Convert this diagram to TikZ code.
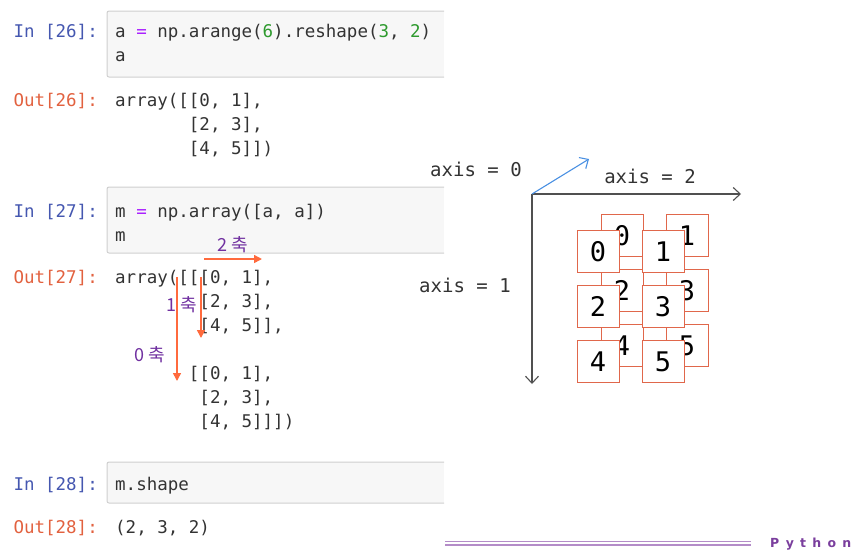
\documentclass[tikz,border=0pt]{standalone}
\usepackage{fontspec}
\setmainfont{DejaVu Sans}
\setsansfont{DejaVu Sans}
\setmonofont{DejaVu Sans Mono}
\newfontfamily\kr{Noto Sans CJK KR}
\usetikzlibrary{arrows.meta}

\definecolor{inblau}{HTML}{4557B0}
\definecolor{outrot}{HTML}{E2613F}
\definecolor{codegrau}{HTML}{333333}
\definecolor{lila}{HTML}{AA22FF}
\definecolor{zahlgruen}{HTML}{2E9A2E}
\definecolor{zellgrau}{HTML}{F7F7F7}
\definecolor{randgrau}{HTML}{CFCFCF}
\definecolor{pfeilrot}{HTML}{FF6A3D}
\definecolor{violett}{HTML}{7030A0}
\definecolor{achsgrau}{HTML}{505050}
\definecolor{achsblau}{HTML}{4A90E2}
\definecolor{boxrot}{HTML}{E0674B}
\definecolor{linienlila}{HTML}{B48CC8}
\definecolor{pylila}{HTML}{7A3E9D}

\def\code{\fontsize{17.5}{24}\ttfamily}
\def\eingabe#1#2{
	\fill[zellgrau] (107,#1) rectangle (444,#2);
	\draw[randgrau,line width=1pt,rounded corners=2pt] (444,#1) -- (107,#1) -- (107,#2) -- (444,#2);
}
\def\gr#1{\textcolor{zahlgruen}{#1}}

\begin{document}
\begin{tikzpicture}[x=1pt,y=-1pt,>={Triangle[length=8pt,width=8pt]},
	prompt/.style={anchor=base east,inner sep=0,font=\code},
	zeile/.style={anchor=base west,inner sep=0,align=left,font=\code,text=codegrau},
	rotpfeil/.style={draw=pfeilrot,line width=1.5pt,->},
	achstext/.style={inner sep=0,text=violett,font=\fontsize{18}{18}\kr},
	achse/.style={draw=achsgrau,line width=1.1pt,-{Straight Barb[length=7pt,width=13pt]}},
	achslabel/.style={anchor=base,inner sep=0,text=codegrau,font=\fontsize{19}{19}\ttfamily},
	zelle/.style={draw=boxrot,fill=white,line width=1pt,minimum size=42pt,inner sep=0,font=\fontsize{27}{27}\ttfamily}]

\useasboundingbox (0,0) rectangle (859,558);

\eingabe{11}{77}
\eingabe{187}{253}
\eingabe{462}{503}

\node[prompt,text=inblau] (in26) at (98,37) {In [26]:};
\node[zeile] (c26) at (115,61) {a \textcolor{lila}{=} np.arange(\gr{6}).reshape(\gr{3}, \gr{2})\\a};
\node[prompt,text=outrot] (out26) at (98,106.5) {Out[26]:};
\node[zeile] (r26) at (115,154.5) {array([[0, 1],\\
\phantom{array([}[2, 3],\\
\phantom{array([}[4, 5]])};

\node[prompt,text=inblau] (in27) at (98,217) {In [27]:};
\node[zeile] (c27) at (115,241) {m \textcolor{lila}{=} np.array([a, a])\\m};
\node[prompt,text=outrot] (out27) at (98,283) {Out[27]:};
\node[zeile] (r27) at (115,427) {array([[[0, 1],\\
\phantom{array([[}[2, 3],\\
\phantom{array([[}[4, 5]],\\[24pt]
\phantom{array([}[[0, 1],\\
\phantom{array([[}[2, 3],\\
\phantom{array([[}[4, 5]]])};

\node[prompt,text=inblau] (in28) at (98,490) {In [28]:};
\node[zeile] (c28) at (115,490) {m.shape};
\node[prompt,text=outrot] (out28) at (98,533) {Out[28]:};
\node[zeile] (r28) at (115,533) {(2, 3, 2)};

\coordinate (s2a) at (204,259);
\coordinate (s2e) at (262,259);
\coordinate (s1a) at (201,277);
\coordinate (s1e) at (201,338);
\coordinate (s0a) at (177,277);
\coordinate (s0e) at (177,381);
\draw[rotpfeil] (s2a) -- (s2e);
\draw[rotpfeil] (s1a) -- (s1e);
\draw[rotpfeil] (s0a) -- (s0e);
\node[achstext] (l2) at (232.5,245) {2 축};
\node[achstext] (l1) at (181.5,304.5) {1 축};
\node[achstext] (l0) at (150,355) {0 축};

\coordinate (o) at (532,194);
\coordinate (x2) at (741,194);
\coordinate (x1) at (532,384);
\coordinate (x0) at (589,159);
\draw[achse] (o) -- (x2);
\draw[achse] (o) -- (x1);
\draw[achse,draw=achsblau] (o) -- (x0);
\node[achslabel] (a0) at (476,176) {axis = 0};
\node[achslabel] (a2) at (650,183) {axis = 2};
\node[achslabel] (a1) at (465,292) {axis = 1};

\foreach \r in {0,1,2}{
	\foreach \c in {0,1}{
		\pgfmathtruncatemacro\n{2*\r+\c}
		\node[zelle] (h\n) at ({622+65*\c},{235.5+55*\r}) {\n};
	}
}
\foreach \r in {0,1,2}{
	\foreach \c in {0,1}{
		\pgfmathtruncatemacro\n{2*\r+\c}
		\node[zelle] (v\n) at ({598+65*\c},{251.5+55*\r}) {\n};
	}
}

\draw[linienlila,line width=1.2pt] (445,541.5) -- (751,541.5);
\draw[linienlila,line width=1.2pt] (445,545) -- (751,545);
\node[anchor=base west,inner sep=0,text=pylila,font=\fontsize{12.5}{12.5}\sffamily\bfseries\addfontfeature{LetterSpace=50}] (py) at (770,547) {Python};

\end{tikzpicture}
\end{document}
